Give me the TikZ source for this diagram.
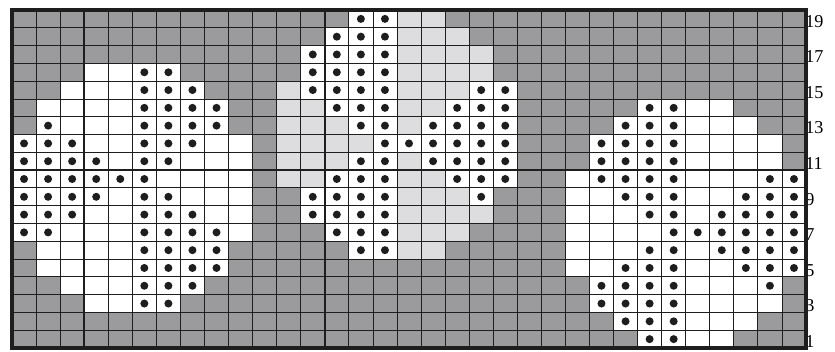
\documentclass[tikz,border=0pt]{standalone}
\usepackage{fontspec}
\setmainfont{Liberation Serif}
\definecolor{ChartGray}{RGB}{155,155,157}
\definecolor{ChartLight}{RGB}{221,221,223}
\definecolor{ChartInk}{RGB}{30,30,30}

\begin{document}
\begin{tikzpicture}[
  x=0.7218cm, y=0.5337cm, % one cell = one stitch
  kind g/.style={fill=ChartGray},
  kind l/.style={fill=ChartLight},
  kind w/.style={fill=white},
  kind d/.style={fill=white},
  stitchdot/.style={fill=ChartInk},
  gridline/.style={draw=ChartInk, line width=0.7pt},
  tenline/.style={draw=ChartInk, line width=1.5pt},
  chartframe/.style={draw=ChartInk, line width=3pt},
  rowlabel/.style={anchor=west, inner sep=0pt, yshift=-2pt, font=\fontsize{15.5}{15.5}\selectfont}
]

% --- Fixed margins ---
\useasboundingbox (-0.4988,-0.1686) rectangle (34.2053,19.5621);

% --- Cells, row by row (count/kind, left to right) ---
\foreach \r/\segs in {%
  19/{14/g,2/d,2/l,15/g},%
  18/{13/g,3/d,3/l,14/g},%
  17/{12/g,4/d,4/l,13/g},%
  16/{3/g,2/w,2/d,5/g,4/d,4/l,13/g},%
  15/{2/g,3/w,3/d,3/g,1/l,4/d,3/l,2/d,12/g},%
  14/{1/g,4/w,4/d,2/g,2/l,3/d,2/l,3/d,5/g,2/d,2/w,3/g},%
  13/{1/g,1/d,3/w,4/d,2/g,3/l,2/d,1/l,4/d,4/g,3/d,3/w,2/g},%
  12/{3/d,2/w,3/d,2/w,1/g,4/l,6/d,3/g,4/d,4/w,1/g},%
  11/{4/d,1/w,2/d,3/w,1/g,3/l,2/d,1/l,4/d,3/g,4/d,4/w,1/g},%
  10/{6/d,4/w,1/g,2/l,3/d,2/l,3/d,2/g,1/w,4/d,3/w,2/d},%
  9/{4/d,1/w,2/d,3/w,2/g,4/d,3/l,1/d,3/g,2/w,3/d,2/w,3/d},%
  8/{3/d,2/w,3/d,2/w,2/g,4/d,4/l,3/g,3/w,2/d,1/w,4/d},%
  7/{2/d,3/w,4/d,1/w,3/g,3/d,3/l,4/g,4/w,6/d},%
  6/{1/g,4/w,4/d,5/g,2/d,2/l,5/g,3/w,2/d,1/w,4/d},%
  5/{1/g,4/w,4/d,14/g,2/w,3/d,2/w,3/d},%
  4/{2/g,3/w,3/d,16/g,4/d,3/w,1/d,1/g},%
  3/{3/g,2/w,2/d,17/g,4/d,4/w,1/g},%
  2/{25/g,3/d,3/w,2/g},%
  1/{26/g,2/d,2/w,3/g}%
}{
  \foreach \n/\k [remember=\e as \s (initially 0), evaluate=\n as \e using int(\s+\n)] in \segs {
    \fill[kind \k] (\s,\r-1) rectangle (\e,\r);
    \if\k d
      \foreach \c in {1,...,\n}
        \fill[stitchdot] (\s+\c-0.5,\r-0.5) circle[radius=0.12cm];
    \fi
  }
}

% --- Grid lines ---
\foreach \i in {1,...,32} \draw[gridline] (\i,0) -- (\i,19);
\foreach \j in {1,...,18} \draw[gridline] (0,\j) -- (33,\j);
\foreach \i in {3,13,23} \draw[tenline] (\i,0) -- (\i,19);
\draw[tenline] (0,10) -- (33,10);

% --- Row numbers ---
\foreach \r in {1,3,...,19}
  \node[rowlabel] (row\r) at (32.96,\r-0.5) {\r};

% --- Frame ---
\draw[chartframe] (0,0) rectangle (33,19);

\end{tikzpicture}
\end{document}
